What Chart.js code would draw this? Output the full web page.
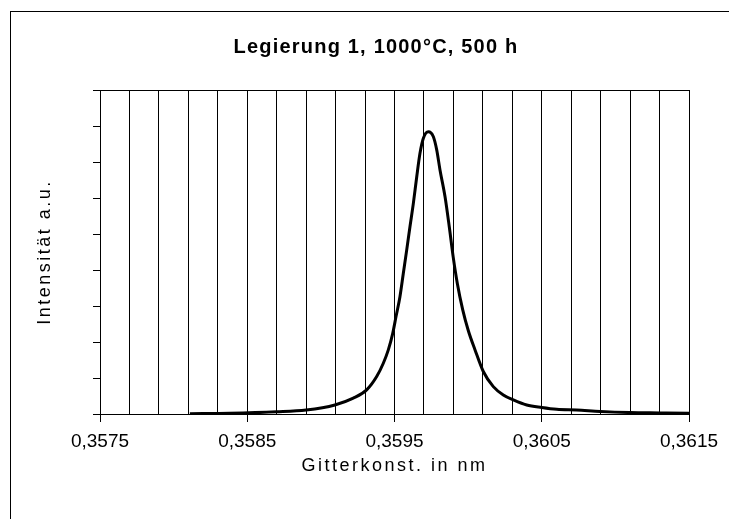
<!DOCTYPE html>
<html>
<head>
<meta charset="utf-8">
<script src="https://cdn.jsdelivr.net/npm/chart.js@4/dist/chart.umd.min.js"></script>
<style>
  html, body { margin: 0; padding: 0; background: #fff; overflow: hidden; }
  canvas { display: block; }
</style>
</head>
<body>
<canvas id="c" width="729" height="519"></canvas>
<script>
// Texts
const chartTitle = 'Legierung 1, 1000°C, 500 h';
const xAxisTitle = 'Gitterkonst. in nm';
const yAxisTitle = 'Intensität a.u.';

// Measured profile: lattice constant (nm) and intensity (arbitrary units)
const latticeConst = [
  0.358110, 0.358380, 0.358700, 0.358900, 0.359095, 0.359220, 0.359311, 0.359379,
  0.359424, 0.359458, 0.359488, 0.359510, 0.359537, 0.359560, 0.359583, 0.359605,
  0.359628, 0.359651, 0.359673, 0.359696, 0.359730, 0.359764, 0.359787, 0.359809,
  0.359843, 0.359872, 0.359899, 0.359927, 0.359963, 0.360001, 0.360047, 0.360103,
  0.360171, 0.360239, 0.360307, 0.360398, 0.360500, 0.360602, 0.360737, 0.360896,
  0.361099, 0.361303, 0.361500
];
const intensity = [
  0.01, 0.02, 0.06, 0.11, 0.25, 0.44, 0.67, 1.04,
  1.41, 1.78, 2.24, 2.70, 3.26, 3.91, 4.56, 5.20,
  5.85, 6.59, 7.24, 7.66, 7.84, 7.70, 7.33, 6.78,
  6.04, 5.20, 4.35, 3.62, 2.90, 2.32, 1.78, 1.18,
  0.76, 0.53, 0.39, 0.25, 0.18, 0.13, 0.11, 0.07,
  0.04, 0.03, 0.02
];

// Axis ranges and ticks
const xMin = 0.3575, xMax = 0.3615, xGridStep = 0.0002;
const xLabelValues = [0.3575, 0.3585, 0.3595, 0.3605, 0.3615];
const xTickLabels = ['0,3575', '0,3585', '0,3595', '0,3605', '0,3615'];
const yMin = 0, yMax = 9, yStep = 1;

// Font sizes (px) and the glyph spacing used with each
const titleSize = 20, tickSize = 19, axisTitleSize = 18;
const spacingBySize = { 20: 1.2, 19: 0, 18: 2.5 };

const points = latticeConst.map((x, i) => ({ x: x, y: intensity[i] }));

function labelIndex(v) {
  return xLabelValues.findIndex(t => Math.abs(t - v) < 1e-7);
}

// Applies the glyph spacing that belongs to the current font size
const textSpacing = {
  id: 'textSpacing',
  beforeInit(chart) {
    const ctx = chart.ctx;
    const apply = () => {
      const m = /(\d+(?:\.\d+)?)px/.exec(ctx.font);
      const sp = m ? (spacingBySize[Math.round(+m[1])] || 0) : 0;
      ctx.letterSpacing = sp + 'px';
    };
    const fill = ctx.fillText;
    const measure = ctx.measureText;
    ctx.fillText = function () { apply(); return fill.apply(ctx, arguments); };
    ctx.measureText = function () { apply(); return measure.apply(ctx, arguments); };
  }
};

// Outer frame of the chart object
const outerFrame = {
  id: 'outerFrame',
  beforeDraw(chart) {
    const ctx = chart.ctx;
    ctx.save();
    ctx.strokeStyle = '#000';
    ctx.lineWidth = 1;
    ctx.strokeRect(10.5, 11.5, 1000, 1000);
    ctx.restore();
  }
};

Chart.defaults.font.family = '"Liberation Sans", Arial, sans-serif';
Chart.defaults.color = '#000';

new Chart(document.getElementById('c'), {
  type: 'line',
  data: {
    datasets: [{
      data: points,
      borderColor: '#000',
      borderWidth: 3,
      pointRadius: 0,
      cubicInterpolationMode: 'monotone',
      fill: false
    }]
  },
  options: {
    responsive: false,
    animation: false,
    devicePixelRatio: 1,
    layout: { padding: { left: 23, right: 0, top: 0, bottom: 0 } },
    plugins: {
      legend: { display: false },
      tooltip: { enabled: false },
      title: {
        display: true,
        text: chartTitle,
        color: '#000',
        font: { size: titleSize, weight: 'bold' },
        padding: { top: 35, bottom: 31 }
      }
    },
    scales: {
      x: {
        type: 'linear',
        min: xMin,
        max: xMax,
        afterBuildTicks(scale) {
          const n = Math.round((xMax - xMin) / xGridStep);
          const ticks = [];
          for (let i = 0; i <= n; i++) ticks.push({ value: +(xMin + i * xGridStep).toFixed(5) });
          scale.ticks = ticks;
        },
        afterFit(scale) {
          scale.height = 105;
          scale.paddingLeft = 0;
          scale.paddingRight = 40;
        },
        ticks: {
          autoSkip: false,
          maxRotation: 0,
          padding: 8,
          font: { size: tickSize },
          color: '#000',
          callback(value) {
            const i = labelIndex(value);
            return i >= 0 ? xTickLabels[i] : '';
          }
        },
        grid: {
          color: '#000',
          lineWidth: 1,
          tickLength: 8,
          tickColor: (ctx) => (ctx.tick && labelIndex(ctx.tick.value) >= 0) ? '#000' : 'rgba(0,0,0,0)'
        },
        border: { display: true, color: '#000', width: 1 },
        title: {
          display: true,
          text: xAxisTitle,
          color: '#000',
          font: { size: axisTitleSize },
          padding: { top: 0, bottom: 42 }
        }
      },
      y: {
        min: yMin,
        max: yMax,
        ticks: { stepSize: yStep, display: false },
        afterFit(scale) { scale.width = 77; },
        grid: {
          drawOnChartArea: true,
          color: (ctx) => (ctx.tick && ctx.tick.value === yMax) ? '#000' : 'rgba(0,0,0,0)',
          tickColor: '#000',
          tickLength: 7,
          lineWidth: 1
        },
        border: { display: true, color: '#000', width: 1 },
        title: {
          display: true,
          text: yAxisTitle,
          color: '#000',
          font: { size: axisTitleSize },
          padding: { top: 11, bottom: 0 }
        }
      }
    }
  },
  plugins: [textSpacing, outerFrame]
});
</script>
</body>
</html>
